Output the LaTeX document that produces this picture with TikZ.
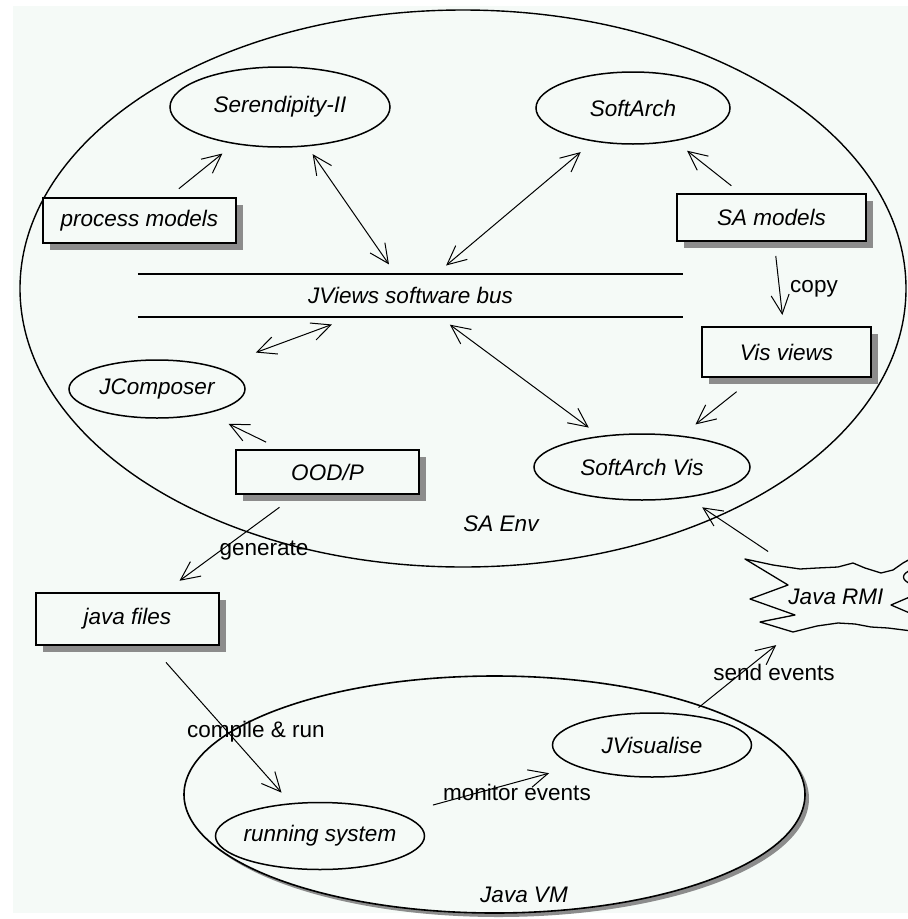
\documentclass[tikz,border=0pt]{standalone}
\usepackage{fontspec}
\setmainfont{Liberation Sans}
\usetikzlibrary{shapes.geometric,arrows.meta,shadows,calc}
\definecolor{bgc}{RGB}{245,250,247}
\definecolor{shd}{RGB}{140,140,140}
\begin{document}
\begin{tikzpicture}[x=1pt,y=-1pt,
  it/.style={font=\fontsize{22.5}{27}\selectfont\itshape},
  up/.style={font=\fontsize{22.5}{27}\selectfont},
  box/.style={draw, rectangle, line width=1.6pt, fill=bgc, inner sep=0pt, it,
    general shadow={fill=shd, shadow xshift=7pt, shadow yshift=-7pt}},
  oval/.style={draw, ellipse, line width=1.5pt, inner sep=0pt},
  barb/.tip={Straight Barb[length=19pt,width=18pt]},
  arr/.style={-barb, line width=1pt},
  barr/.style={barb-barb, line width=1pt},
  busline/.style={line width=1.6pt},
  cloudline/.style={line width=1.3pt, line join=round}
]
\useasboundingbox (0,0) rectangle (908,919);
\fill[white] (0,0) rectangle (908,919);
\fill[bgc] (13,6) rectangle (908,913);

% containers
\node[oval, line width=1.4pt, minimum width=886pt, minimum height=557pt] (saenv) at (463,288.5) {};
\node[oval, line width=1.6pt, fill=bgc, minimum width=621pt, minimum height=237pt,
  general shadow={fill=shd, shadow xshift=4pt, shadow yshift=-4pt}] (vm) at (494.5,794.5) {};
\node[it] (saenvlbl) at (501,524) {SA Env};
\node[it] (vmlbl) at (524,895) {Java VM};

% boxes
\node[box, minimum width=193pt, minimum height=45pt] (pm) at (139.5,220.5) {process models};
\node[box, minimum width=189pt, minimum height=47pt] (sam) at (771.5,217.5) {SA models};
\node[box, minimum width=169pt, minimum height=50pt] (vis) at (786.5,352) {Vis views};
\node[box, minimum width=183pt, minimum height=44pt] (ood) at (327.5,472) {OOD/P};
\node[box, minimum width=183pt, minimum height=52pt] (jf) at (127.5,619) {java files};

% ovals
\node[oval, minimum width=220pt, minimum height=80pt, label={[it]center:Serendipity-II}] (ser) at (280,107) {};
\node[oval, minimum width=194pt, minimum height=72pt, label={[it]center:SoftArch}] (sa) at (633,108) {};
\node[oval, minimum width=176pt, minimum height=58pt, label={[it]center:JComposer}] (jc) at (157,389) {};
\node[oval, minimum width=216pt, minimum height=66pt, label={[it]center:SoftArch Vis}] (sav) at (642,467) {};
\node[oval, minimum width=209pt, minimum height=67pt, label={[it]center:running system}] (rs) at (320,836) {};
\node[oval, minimum width=199pt, minimum height=64pt, label={[it]center:JVisualise}] (jv) at (652,745) {};

% software bus
\node[it, minimum width=545pt, minimum height=43pt, inner sep=0pt] (bus) at (410.5,295.5) {JViews software bus};
\draw[busline] (bus.north west) -- (bus.north east);
\draw[busline] (bus.south west) -- (bus.south east);

% Java RMI cloud
\node[it] (rmi) at (836,597) {Java RMI};
\draw[cloudline] (912,558) -- (903,563) -- (893,570) -- (881,573) -- (865,568) -- (853,563)
  -- (838,567) -- (817,568) -- (800,569) -- (773,565) -- (745,559)
  -- (788,585) -- (750,599) -- (795,615) -- (760,622) -- (793,632)
  -- (817,626) -- (838,623) -- (855,624) -- (871,627) -- (888,628) -- (912,631);
\draw[cloudline] (911,570) .. controls (901,574) and (901,580) .. (911,584);
\draw[cloudline] (912,596) -- (891,605) -- (912,614);

% connectors
\draw[arr]  ($(pm)!0.28!(ser)$)  -- ($(pm)!0.59!(ser)$);
\draw[barr] ($(ser)!0.25!(bus)$) -- ($(ser)!0.835!(bus)$);
\draw[barr] ($(sa)!0.235!(bus)$) -- ($(sa)!0.84!(bus)$);
\draw[arr]  ($(sam)!0.29!(sa)$)  -- ($(sam)!0.61!(sa)$);
\draw[arr]  ($(sam)!0.286!(vis)$) -- ($(sam)!0.725!(vis)$);
\draw[barr] ($(bus)!0.31!(jc)$)  -- ($(bus)!0.61!(jc)$);
\draw[barr] ($(bus)!0.17!(sav)$) -- ($(bus)!0.77!(sav)$);
\draw[arr]  ($(vis)!0.345!(sav)$) -- ($(vis)!0.63!(sav)$);
\draw[arr]  ($(ood)!0.36!(jc)$)  -- ($(ood)!0.58!(jc)$);
\draw[arr]  ($(ood)!0.24!(jf)$)  -- ($(ood)!0.74!(jf)$);
\draw[arr]  ($(rmi)!0.35!(sav)$) -- ($(rmi)!0.69!(sav)$);
\draw[arr]  ($(jf)!0.2!(rs)$)    -- ($(jf)!0.8!(rs)$);
\draw[arr]  ($(rs)!0.34!(jv)$)   -- ($(rs)!0.69!(jv)$);
\draw[arr]  ($(jv)!0.253!(rmi)$) -- ($(jv)!0.675!(rmi)$);

% connector labels
\node[up] (lcopy) at (814,289) {copy};
\node[up] (lgen) at (264,551) {generate};
\node[up] (lcomp) at (256,732) {compile \& run};
\node[up] (lmon) at (517,792) {monitor events};
\node[up] (lsend) at (774,672) {send events};
\end{tikzpicture}
\end{document}
